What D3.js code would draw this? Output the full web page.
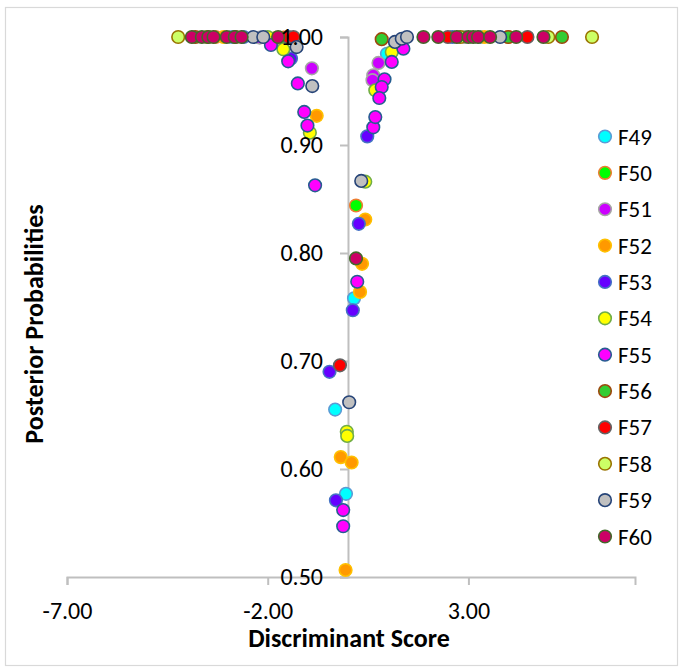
<!DOCTYPE html>
<html>
<head>
<meta charset="utf-8">
<script src="https://cdn.jsdelivr.net/npm/d3@7"></script>
<style>
  html, body { margin: 0; padding: 0; background: #fff; }
  svg { display: block; font-family: Carlito, Calibri, Lato, "Open Sans", sans-serif; }
</style>
</head>
<body>
<svg id="chart" width="683" height="669"></svg>
<script>
// ---------- data ----------
const seriesNames = ["F49","F50","F51","F52","F53","F54","F55","F56","F57","F58","F59","F60"];

const f49X = [0.97, 0.15, -0.32, -0.05, -2.9, 3.3];
const f49Y = [0.9845, 0.758, 0.655, 0.577, 1.0, 1.0];

const f50X = [0.20, -3.3, 4.0, -1.6];
const f50Y = [0.844, 1.0, 1.0, 0.9995];

const f51X = [-0.90, 0.76, 0.63, 0.61, -2.2, 2.9];
const f51Y = [0.971, 0.976, 0.9645, 0.960, 0.9995, 1.0];

const f52X = [-0.78, 0.43, 0.35, 0.30, -0.18, 0.09, -0.06, -1.8, 3.4, -3.1];
const f52Y = [0.927, 0.831, 0.790, 0.764, 0.611, 0.606, 0.5065, 0.999, 1.0, 1.0];

const f53X = [0.48, 0.27, 0.12, -0.46, -0.30, -1.42, -2.6, 2.6, -1.9];
const f53Y = [0.908, 0.827, 0.747, 0.690, 0.571, 0.980, 1.0, 1.0, 0.997];

const f54X = [-1.61, -0.95, 0.43, -0.03, -0.02, 1.09, 0.68, -2.0];
const f54Y = [0.9886, 0.9114, 0.866, 0.6345, 0.6306, 0.9861, 0.9506, 1.0];

const f55X = [-1.92, -1.49, -1.25, -1.09, -1.01, -0.82, 0.63, 0.23, -0.12, -0.12, 1.38, 1.09, 0.91, 0.84, 0.78, 0.68];
const f55Y = [0.9926, 0.9775, 0.957, 0.9306, 0.918, 0.8627, 0.9164, 0.7734, 0.562, 0.547, 0.9892, 0.9769, 0.9608, 0.9537, 0.9435, 0.9259];

const f56X = [0.84, 5.33, 3.99, -3.8, -2.8];
const f56Y = [0.998, 1.0, 1.0, 1.0, 1.0];

const f57X = [-1.49, -1.36, -0.20, 4.47, 2.49];
const f57Y = [1.0, 1.0, 0.696, 1.0, 1.0];

const f58X = [-4.23, 4.99, 6.08, -3.5, 2.8];
const f58Y = [1.0, 1.0, 1.0, 1.0, 1.0];

const f59X = [-2.36, -2.11, -1.28, -0.89, 0.33, 0.03, 1.17, 1.34, 1.47, 3.79];
const f59Y = [1.0, 1.0, 0.9907, 0.9546, 0.8667, 0.6618, 0.9954, 0.9984, 1.0, 1.0];

const f60X = [-3.89, -3.64, -3.48, -3.35, -3.02, -2.82, -2.65, -1.74, 0.20, 1.88, 2.25, 2.71, 3.00, 3.12, 3.24, 3.54, 4.19, 4.87];
const f60Y = [1.0, 1.0, 1.0, 1.0, 1.0, 1.0, 1.0, 1.0, 0.795, 1.0, 1.0, 1.0, 1.0, 1.0, 1.0, 1.0, 1.0, 1.0];

const xTickValues = [-7, -2, 3];
const yTickValues = [0.5, 0.6, 0.7, 0.8, 0.9, 1.0];

// ---------- styles ----------
const fillColors   = ["#00FFFF","#00FF00","#CC00FF","#FF9900","#6600FF","#FFFF00","#FF00FF","#33CC33","#FF0000","#CCFF66","#C0C0C0","#CC0066"];
const strokeColors = ["#5B9BD5","#ED7D31","#A5A5A5","#FFC000","#4472C4","#70AD47","#255E91","#9E480E","#636363","#997300","#264478","#43682B"];

const allX = [f49X,f50X,f51X,f52X,f53X,f54X,f55X,f56X,f57X,f58X,f59X,f60X];
const allY = [f49Y,f50Y,f51Y,f52Y,f53Y,f54Y,f55Y,f56Y,f57Y,f58Y,f59Y,f60Y];
const series = seriesNames.map((name, i) => ({
  name, fill: fillColors[i], stroke: strokeColors[i],
  points: allX[i].map((x, j) => ({x, y: allY[i][j]}))
}));

// ---------- chart ----------
const svg = d3.select("#chart");

svg.append("rect")
  .attr("x", 5.5).attr("y", 7.5).attr("width", 672).attr("height", 658)
  .attr("fill", "#fff").attr("stroke", "#D9D9D9").attr("stroke-width", 1.2);

const x = d3.scaleLinear().domain([-7, 7.15]).range([67, 635]);
const y = d3.scaleLinear().domain([0.5, 1.0]).range([577, 37]);

const axisColor = "#BFBFBF";
const locale = d3.formatLocale({decimal: ".", thousands: ",", grouping: [3], currency: ["", ""], minus: "-"});
const fmt = locale.format(".2f");

// axis lines and ticks (beneath markers)
const xAxisLines = svg.append("g")
  .attr("transform", `translate(0,${y(0.5)})`)
  .call(d3.axisBottom(x).tickValues(xTickValues).tickSizeOuter(0).tickSize(8).tickFormat(""));
const yAxisLines = svg.append("g")
  .attr("transform", `translate(${x(0)},0)`)
  .call(d3.axisLeft(y).tickValues(yTickValues).tickSizeOuter(0).tickSize(8).tickFormat(""));
[xAxisLines, yAxisLines].forEach(g => {
  g.selectAll("path.domain").attr("stroke", axisColor).attr("stroke-width", 2);
  g.selectAll(".tick line").attr("stroke", axisColor).attr("stroke-width", 2);
  g.selectAll("text").remove();
});

// markers
const r = 6.3;
series.forEach(s => {
  svg.append("g").selectAll("circle")
    .data(s.points)
    .join("circle")
    .attr("cx", d => x(d.x))
    .attr("cy", d => y(d.y))
    .attr("r", r)
    .attr("fill", s.fill)
    .attr("stroke", s.stroke)
    .attr("stroke-width", 1.6);
});

// axis labels (above markers)
const xAxisText = svg.append("g")
  .attr("transform", `translate(0,${y(0.5)})`)
  .call(d3.axisBottom(x).tickValues(xTickValues).tickSize(0).tickPadding(26).tickFormat(fmt));
const yAxisText = svg.append("g")
  .attr("transform", `translate(${x(0)},0)`)
  .call(d3.axisLeft(y).tickValues(yTickValues).tickSize(0).tickPadding(25).tickFormat(fmt));
[xAxisText, yAxisText].forEach(g => {
  g.selectAll("path.domain").remove();
  g.selectAll(".tick line").remove();
  g.selectAll("text").attr("fill", "#000").style("font-size", "24px")
    .style("font-family", "Carlito, Calibri, Lato, sans-serif");
});
xAxisText.selectAll("text").attr("dy", "0.32em").attr("y", 34);

// titles
svg.append("text")
  .attr("x", 349).attr("y", 641)
  .attr("text-anchor", "middle").attr("dominant-baseline", "middle")
  .style("font-size", "26px").style("font-weight", "bold")
  .text("Discriminant Score");

svg.append("text")
  .attr("transform", "translate(37,324) rotate(-90)")
  .attr("text-anchor", "middle").attr("dominant-baseline", "middle")
  .style("font-size", "26px").style("font-weight", "bold")
  .text("Posterior Probabilities");

// legend
const legend = svg.append("g");
const legendY = d3.scalePoint().domain(seriesNames).range([136.5, 536.5]);
series.forEach(s => {
  const g = legend.append("g").attr("transform", `translate(0,${legendY(s.name)})`);
  g.append("circle").attr("cx", 605).attr("cy", 0).attr("r", 6.3)
    .attr("fill", s.fill).attr("stroke", s.stroke).attr("stroke-width", 1.6);
  g.append("text").attr("x", 618).attr("y", 0).attr("dominant-baseline", "central")
    .style("font-size", "23px").text(s.name);
});
</script>
</body>
</html>
